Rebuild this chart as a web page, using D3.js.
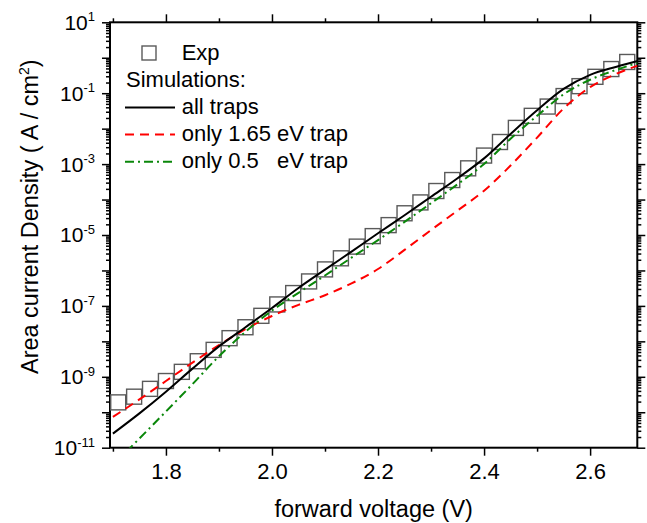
<!DOCTYPE html>
<html>
<head>
<meta charset="utf-8">
<script src="https://cdn.jsdelivr.net/npm/d3@7"></script>
<style>
  body { margin: 0; background: #fff; }
  svg { display: block; background: #fff; font-family: Arial, "Liberation Sans", sans-serif; }
  .axis path { display: none; }
  .axis line { stroke: #000; stroke-width: 1.5; }
</style>
</head>
<body>
<svg id="chart" width="647" height="523"></svg>
<script>

// measured points (squares)
var expVoltage = [1.71, 1.74, 1.77, 1.80, 1.83, 1.86, 1.89, 1.92, 1.95, 1.98, 2.01,
                  2.04, 2.07, 2.10, 2.13, 2.16, 2.19, 2.22, 2.25, 2.28, 2.31, 2.34,
                  2.37, 2.40, 2.43, 2.46, 2.49, 2.52, 2.55, 2.58, 2.61, 2.64, 2.67];
var expDensity = [1.9e-10, 2.75e-10, 4.57e-10, 7.6e-10, 1.38e-9, 2.75e-9, 5.75e-9, 1.23e-8,
                  2.5e-8, 5.25e-8, 1.1e-7, 2.3e-7, 4.9e-7, 1.07e-6, 2.2e-6, 4.7e-6, 9.3e-6,
                  1.9e-5, 4.1e-5, 8.3e-5, 1.74e-4, 3.55e-4, 7.6e-4, 1.74e-3, 4.2e-3, 1.05e-2,
                  2.3e-2, 4.2e-2, 8.3e-2, 0.158, 0.29, 0.48, 0.76];

// simulations
var simVoltage = [1.70, 1.75, 1.80, 1.85, 1.90, 1.95, 2.00, 2.05, 2.10, 2.15, 2.20,
                  2.25, 2.30, 2.35, 2.40, 2.45, 2.50, 2.55, 2.60, 2.65, 2.69];
var allTraps = [2.5e-11, 9.3e-11, 3.8e-10, 1.7e-9, 7.2e-9, 2.5e-8, 8.7e-8, 3.2e-7, 1.05e-6,
                3.4e-6, 1.12e-5, 3.6e-5, 1.2e-4, 4.0e-4, 1.45e-3, 7.1e-3, 3.3e-2, 0.132,
                0.33, 0.56, 0.81];
var only165 = [7.4e-11, 2.3e-10, 7.6e-10, 2.5e-9, 7.9e-9, 2.2e-8, 5.2e-8, 1.07e-7, 2.0e-7,
               4.3e-7, 1.1e-6, 3.8e-6, 1.38e-5, 4.9e-5, 1.78e-4, 9.1e-4, 5.6e-3, 3.7e-2,
               0.148, 0.355, 0.60];
var only05 = [3.2e-12, 1.82e-11, 1.05e-10, 6.2e-10, 3.8e-9, 1.86e-8, 7.4e-8, 2.34e-7, 7.2e-7,
              2.3e-6, 7.2e-6, 2.34e-5, 7.9e-5, 2.7e-4, 1.0e-3, 5.2e-3, 2.3e-2, 9.3e-2,
              0.24, 0.46, 0.72];

var xTicks = [1.8, 2.0, 2.2, 2.4, 2.6];
var xMinorTicks = [1.7, 1.9, 2.1, 2.3, 2.5];
var yLabelExps = [1, -1, -3, -5, -7, -9, -11];
var legendLabels = ["Exp", "Simulations:", "all traps", "only 1.65 eV trap", "only 0.5   eV trap"];

var margin = {top: 22.3, right: 9.7, bottom: 75.3, left: 110}
  , width = 647 - margin.left - margin.right
  , height = 523 - margin.top - margin.bottom;

var svg = d3.select("#chart");

var g = svg.append("g")
    .attr("transform", "translate(" + margin.left + "," + margin.top + ")");

var x = d3.scaleLinear()
    .domain([1.6945, 2.689])
    .range([0, width]);

var y = d3.scaleLog()
    .domain([1e-11, 10])
    .range([height, 0]);

// decade and sub-decade tick positions
var yMajor = d3.range(-11, 2).map(function(e) { return Math.pow(10, e); });
var yMinor = [];
yMajor.slice(0, -1).forEach(function(d) {
  d3.range(2, 10).forEach(function(k) { yMinor.push(k * d); });
});

function addAxis(axisFn, scale, values, size, transform, labels) {
  var a = axisFn(scale).tickValues(values).tickSize(size).tickSizeOuter(0);
  if (!labels) a.tickFormat("");
  var sel = g.append("g")
      .attr("class", "axis")
      .attr("transform", transform || null)
      .call(a);
  return sel;
}

// bottom
addAxis(d3.axisBottom, x, xMinorTicks, 4, "translate(0," + height + ")");
var bottom = addAxis(d3.axisBottom, x, xTicks, 8, "translate(0," + height + ")", true);
bottom.call(d3.axisBottom(x).tickValues(xTicks).tickSize(8).tickSizeOuter(0)
    .tickPadding(8).tickFormat(d3.format(".1f")));
bottom.selectAll("text")
    .style("font-size", "22px")
    .style("font-family", "Arial, 'Liberation Sans', sans-serif")
    .attr("fill", "#000");
bottom.select("path").style("display", "none");

// top
addAxis(d3.axisTop, x, xMinorTicks, 4);
addAxis(d3.axisTop, x, xTicks, 8);

// left / right
addAxis(d3.axisLeft, y, yMinor, 4);
addAxis(d3.axisLeft, y, yMajor, 8);
addAxis(d3.axisRight, y, yMinor, 4, "translate(" + width + ",0)");
addAxis(d3.axisRight, y, yMajor, 8, "translate(" + width + ",0)");

// y labels 10^n
var ylab = g.selectAll(".ylab")
    .data(yLabelExps)
  .enter().append("text")
    .attr("class", "ylab")
    .attr("x", -15)
    .attr("y", function(d) { return y(Math.pow(10, d)) + 7.5; })
    .attr("text-anchor", "end")
    .style("font-size", "21px");
ylab.append("tspan").text("10");
ylab.append("tspan")
    .attr("dy", -8.5)
    .style("font-size", "13px")
    .text(function(d) { return d < 0 ? "-" + Math.abs(d) : String(d); });

// frame
g.append("rect")
    .attr("width", width)
    .attr("height", height)
    .attr("fill", "none")
    .attr("stroke", "#000")
    .attr("stroke-width", 2);

// clip
svg.append("defs").append("clipPath")
    .attr("id", "plotClip")
  .append("rect")
    .attr("width", width)
    .attr("height", height);

var plot = g.append("g").attr("clip-path", "url(#plotClip)");

// experimental squares
plot.selectAll(".exp")
    .data(expVoltage)
  .enter().append("rect")
    .attr("class", "exp")
    .attr("x", function(d) { return x(d) - 7.5; })
    .attr("y", function(d, i) { return y(expDensity[i]) - 7.5; })
    .attr("width", 15)
    .attr("height", 15)
    .attr("fill", "none")
    .attr("stroke", "#5a5a5a")
    .attr("stroke-width", 1.4);

var line = d3.line()
    .x(function(d) { return x(d[0]); })
    .y(function(d) { return y(d[1]); })
    .curve(d3.curveMonotoneX);

var series = [
  {values: only165, color: "#ff0000", dash: "9,6"},
  {values: only05, color: "#0a870a", dash: "9,4,2,4"},
  {values: allTraps, color: "#000", dash: null}
];

series.forEach(function(s) {
  plot.append("path")
      .datum(simVoltage.map(function(v, i) { return [v, s.values[i]]; }))
      .attr("d", line)
      .attr("fill", "none")
      .attr("stroke", s.color)
      .attr("stroke-width", 2)
      .attr("stroke-dasharray", s.dash);
});

// legend
var legend = svg.append("g").style("font-size", "22px");

legend.append("rect")
    .attr("x", 142)
    .attr("y", 46)
    .attr("width", 14)
    .attr("height", 14)
    .attr("fill", "none")
    .attr("stroke", "#5a5a5a")
    .attr("stroke-width", 1.4);

var legendRows = [
  {x: 181.7, y: 60, label: legendLabels[0]},
  {x: 126, y: 87.3, label: legendLabels[1]},
  {x: 181.7, y: 114, label: legendLabels[2], s: series[2]},
  {x: 181.7, y: 141, label: legendLabels[3], s: series[0]},
  {x: 181.7, y: 168.3, label: legendLabels[4], s: series[1]}
];

legendRows.forEach(function(r) {
  legend.append("text")
      .attr("x", r.x)
      .attr("y", r.y)
      .style("white-space", "pre")
      .text(r.label);
  if (r.s) {
    legend.append("line")
        .attr("x1", 125)
        .attr("x2", 175)
        .attr("y1", r.y - 6.5)
        .attr("y2", r.y - 6.5)
        .attr("stroke", r.s.color)
        .attr("stroke-width", 2)
        .attr("stroke-dasharray", r.s.dash);
  }
});

// axis titles
svg.append("text")
    .attr("x", margin.left + width / 2)
    .attr("y", 517)
    .attr("text-anchor", "middle")
    .style("font-size", "23.5px")
    .text("forward voltage (V)");

var yt = svg.append("text")
    .attr("transform", "translate(38.3,216.7) rotate(-90)")
    .attr("text-anchor", "middle")
    .style("font-size", "23.5px");
yt.append("tspan").text("Area current Density ( A / cm");
yt.append("tspan").attr("dy", -9).style("font-size", "14px").text("2");
yt.append("tspan").attr("dy", 9).text(")");

</script>
</body>
</html>
